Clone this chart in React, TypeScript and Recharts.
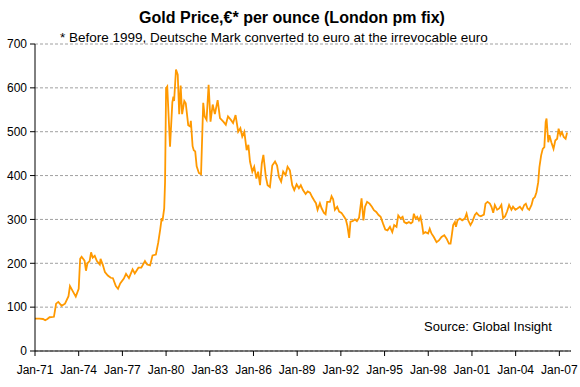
import { LineChart, Line, XAxis, YAxis, CartesianGrid } from 'recharts';

// [year as decimal, € per ounce]
const seventies: [number, number][] = [
  [1971.0, 74], [1971.3, 74], [1971.55, 73], [1971.7, 70], [1971.85, 73],
  [1972.0, 77], [1972.3, 78], [1972.45, 108], [1972.6, 112], [1972.83, 103],
  [1973.06, 108], [1973.3, 125], [1973.4, 148], [1973.6, 136], [1973.8, 124],
  [1974.0, 142], [1974.1, 210], [1974.2, 215], [1974.4, 206], [1974.5, 183],
  [1974.6, 200], [1974.75, 205], [1974.85, 225], [1974.96, 213], [1975.1, 217],
  [1975.25, 205], [1975.45, 197], [1975.5, 210], [1975.65, 197], [1975.8, 180],
  [1976.0, 172], [1976.2, 167], [1976.35, 166], [1976.55, 148], [1976.7, 142],
  [1976.85, 154], [1977.1, 165], [1977.25, 176], [1977.45, 166], [1977.7, 186],
  [1977.85, 177], [1978.1, 190], [1978.3, 190], [1978.55, 205], [1978.7, 197],
  [1978.9, 195], [1979.07, 218], [1979.3, 220], [1979.46, 247], [1979.6, 278],
  [1979.7, 303], [1979.75, 296], [1979.87, 325], [1979.93, 386],
];

const eighties: [number, number][] = [
  [1980.0, 599], [1980.08, 603], [1980.27, 466], [1980.43, 567], [1980.5, 580],
  [1980.55, 570], [1980.68, 642], [1980.8, 630], [1980.9, 540], [1981.0, 605],
  [1981.1, 540], [1981.25, 570], [1981.35, 565], [1981.52, 515], [1981.65, 512],
  [1981.7, 525], [1981.82, 467], [1981.9, 458], [1982.0, 455], [1982.1, 421],
  [1982.25, 406], [1982.4, 403], [1982.55, 566], [1982.65, 535], [1982.78, 527],
  [1982.92, 607], [1983.05, 523], [1983.2, 562], [1983.35, 540], [1983.54, 572],
  [1983.7, 531], [1983.93, 523], [1984.1, 516], [1984.25, 535], [1984.45, 527],
  [1984.6, 520], [1984.77, 538], [1984.95, 500], [1985.1, 508], [1985.23, 489],
  [1985.37, 500], [1985.53, 458], [1985.65, 470], [1985.76, 432], [1985.92, 409],
  [1986.05, 420], [1986.2, 393], [1986.32, 409], [1986.45, 378], [1986.57, 427],
  [1986.68, 447], [1986.85, 397], [1986.97, 378], [1987.13, 374], [1987.29, 423],
  [1987.48, 432], [1987.62, 423], [1987.75, 397], [1987.9, 386], [1988.04, 409],
  [1988.2, 401], [1988.34, 420], [1988.5, 412], [1988.66, 378], [1988.8, 367],
  [1988.96, 380], [1989.12, 371], [1989.25, 378], [1989.4, 367], [1989.58, 358],
  [1989.72, 364], [1989.88, 361],
];

const nineties: [number, number][] = [
  [1990.03, 351], [1990.17, 343], [1990.29, 337], [1990.4, 322], [1990.56, 337],
  [1990.67, 326], [1990.84, 315], [1990.95, 312], [1991.06, 340], [1991.25, 340],
  [1991.36, 353], [1991.47, 346], [1991.59, 322], [1991.75, 329], [1991.88, 318],
  [1992.04, 315], [1992.2, 307], [1992.34, 300], [1992.45, 285], [1992.57, 258],
  [1992.66, 295], [1992.8, 296], [1992.96, 300], [1993.1, 296], [1993.25, 304],
  [1993.42, 348], [1993.5, 317], [1993.55, 298], [1993.66, 329], [1993.8, 340],
  [1993.97, 336], [1994.13, 329], [1994.27, 321], [1994.43, 317], [1994.59, 310],
  [1994.73, 306], [1994.89, 291], [1995.05, 277], [1995.2, 275], [1995.37, 283],
  [1995.53, 271], [1995.66, 287], [1995.82, 283], [1995.94, 309], [1996.1, 302],
  [1996.24, 306], [1996.35, 294], [1996.51, 291], [1996.67, 294], [1996.81, 291],
  [1996.92, 294], [1997.01, 313], [1997.13, 302], [1997.24, 306], [1997.36, 298],
  [1997.47, 306], [1997.58, 287], [1997.66, 268], [1997.8, 271], [1997.99, 268],
  [1998.1, 279], [1998.22, 268], [1998.38, 260], [1998.57, 248], [1998.73, 252],
  [1998.91, 260], [1999.1, 264], [1999.26, 256], [1999.42, 245], [1999.53, 245],
  [1999.6, 260], [1999.71, 287], [1999.83, 294], [1999.9, 283],
];

const twoThousands: [number, number][] = [
  [2000.01, 298], [2000.17, 302], [2000.33, 298], [2000.51, 302], [2000.63, 313],
  [2000.74, 298], [2000.9, 287], [2001.03, 295], [2001.2, 310], [2001.32, 315],
  [2001.48, 309], [2001.61, 307], [2001.82, 311], [2001.93, 336], [2002.07, 340],
  [2002.23, 336], [2002.34, 329], [2002.46, 315], [2002.57, 333], [2002.73, 322],
  [2002.87, 325], [2003.02, 333], [2003.14, 303], [2003.27, 307], [2003.41, 318],
  [2003.55, 333], [2003.71, 322], [2003.82, 329], [2003.98, 322], [2004.12, 325],
  [2004.29, 329], [2004.45, 322], [2004.59, 333], [2004.7, 336], [2004.82, 325],
  [2004.93, 322], [2005.09, 333], [2005.2, 347], [2005.32, 351], [2005.43, 362],
  [2005.55, 385], [2005.63, 419], [2005.75, 446], [2005.86, 461], [2005.97, 465],
  [2006.06, 522], [2006.12, 530], [2006.24, 476], [2006.32, 492], [2006.45, 476],
  [2006.6, 461], [2006.72, 480], [2006.85, 484], [2006.95, 507], [2007.07, 492],
  [2007.18, 499], [2007.3, 488], [2007.43, 484], [2007.53, 498],
];

const xTicks = [1971, 1974, 1977, 1980, 1983, 1986, 1989, 1992, 1995, 1998, 2001, 2004, 2007];
const yTicks = [0, 100, 200, 300, 400, 500, 600, 700];

const data = [...seventies, ...eighties, ...nineties, ...twoThousands].map(([t, price]) => ({ t, price }));

const font = 'Arial, "Liberation Sans", sans-serif';

export default function App() {
  return (
    <div style={{ position: 'absolute', left: 0, top: 0, width: 580, height: 387, background: '#fff', fontFamily: font }}>
      <div style={{ position: 'absolute', left: 0, width: 584, top: 9, textAlign: 'center', fontSize: 16, fontWeight: 'bold', lineHeight: '18px', color: '#000' }}>
        Gold Price,€* per ounce (London pm fix)
      </div>
      <div style={{ position: 'absolute', left: 60, top: 31, fontSize: 13.5, lineHeight: '14px', color: '#000', whiteSpace: 'nowrap' }}>
        *  Before 1999, Deutsche Mark converted to euro at the irrevocable euro
      </div>
      <LineChart width={580} height={387} data={data} margin={{ top: 44, right: 9, bottom: 6, left: 0 }}>
        <CartesianGrid vertical={false} stroke="#a0a0a0" strokeDasharray="3 2" />
        <XAxis
          dataKey="t"
          type="number"
          domain={[1971, 2007.8]}
          ticks={xTicks}
          interval={0}
          tickFormatter={(y: number) => `Jan-${String(y).slice(2)}`}
          tick={{ fill: '#000', fontSize: 12, fontFamily: font }}
          tickSize={5}
          tickMargin={9}
          height={30}
          axisLine={{ stroke: '#000' }}
          tickLine={{ stroke: '#000' }}
        />
        <YAxis
          domain={[0, 700]}
          ticks={yTicks}
          interval={0}
          width={35}
          tick={{ fill: '#000', fontSize: 12, fontFamily: font }}
          tickSize={5}
          tickMargin={3}
          axisLine={{ stroke: '#000' }}
          tickLine={{ stroke: '#000' }}
        />
        <Line
          type="linear"
          dataKey="price"
          stroke="#ff9900"
          strokeWidth={1.8}
          dot={false}
          isAnimationActive={false}
        />
      </LineChart>
      <div style={{ position: 'absolute', left: 424, top: 320, fontSize: 13, lineHeight: '14px', color: '#000', whiteSpace: 'nowrap' }}>
        Source: Global Insight
      </div>
    </div>
  );
}
